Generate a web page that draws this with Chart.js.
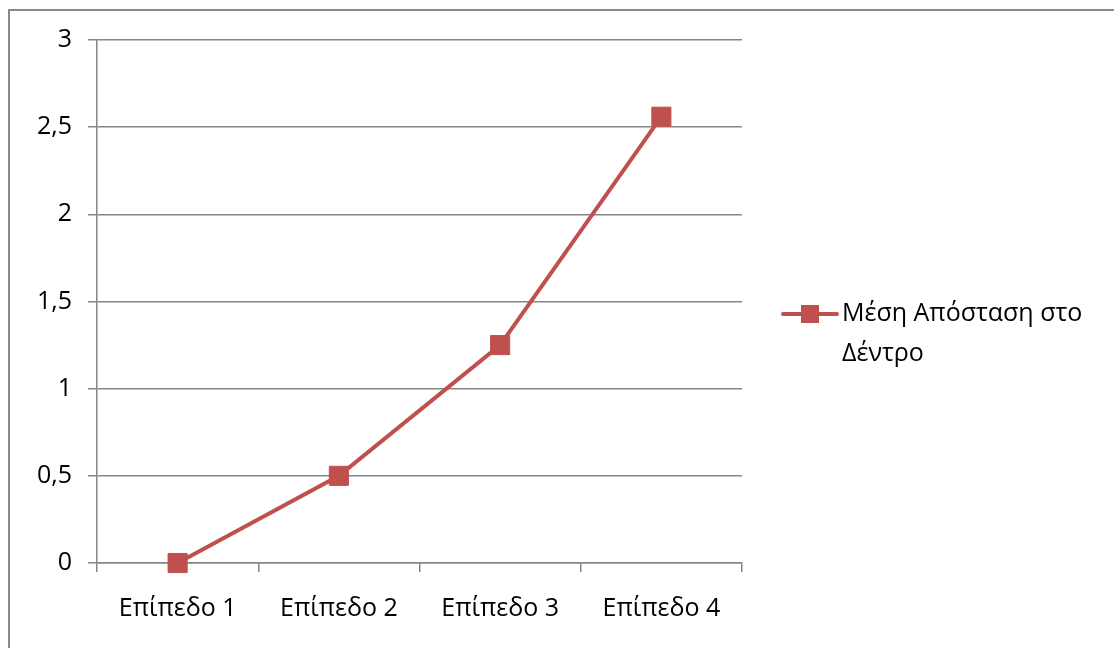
<!DOCTYPE html>
<html>
<head>
<meta charset="utf-8">
<script src="https://cdn.jsdelivr.net/npm/chart.js@4"></script>
<style>
  html, body { margin: 0; padding: 0; background: #fff; }
  #wrap { width: 1114px; height: 648px; position: relative; }
</style>
</head>
<body>
<div id="wrap"><canvas id="c" width="1114" height="648"></canvas></div>
<script>
// Categories and series
const levels = ['Επίπεδο 1', 'Επίπεδο 2', 'Επίπεδο 3', 'Επίπεδο 4'];
const meanDistance = [0, 0.5, 1.25, 2.56];
const seriesName = ['Μέση Απόσταση στο', 'Δέντρο'];
const yTicks = [0, 0.5, 1, 1.5, 2, 2.5, 3];

const RED = '#C0504D';
const AXIS = '#868686';
const FONT = "'Open Sans', 'Noto Sans', sans-serif";
const FONT_SIZE = 25;

// Outer frame of the chart object
const framePlugin = {
  id: 'frame',
  beforeDraw(chart) {
    const ctx = chart.ctx;
    ctx.save();
    ctx.strokeStyle = '#8a8a8a';
    ctx.lineWidth = 2;
    ctx.strokeRect(9, 10, 1200, 700);
    ctx.restore();
  }
};

// Legend on the right: line sample with square marker, wrapped label
const sideLegend = {
  id: 'sideLegend',
  afterDraw(chart) {
    const ctx = chart.ctx;
    const ds = chart.data.datasets[0];
    const y = 314;
    ctx.save();
    ctx.strokeStyle = ds.borderColor;
    ctx.lineWidth = 4;
    ctx.lineCap = 'round';
    ctx.beginPath();
    ctx.moveTo(783, y);
    ctx.lineTo(837, y);
    ctx.stroke();
    ctx.fillStyle = ds.pointBackgroundColor;
    ctx.fillRect(810 - 9, y - 9, 18, 18);
    ctx.fillStyle = '#000';
    ctx.font = FONT_SIZE + 'px ' + FONT;
    ctx.textBaseline = 'middle';
    ctx.textAlign = 'left';
    ds.labelLines.forEach((t, i) => ctx.fillText(t, 842, y + i * 40));
    ctx.restore();
  }
};

new Chart(document.getElementById('c'), {
  type: 'line',
  data: {
    labels: levels,
    datasets: [{
      label: seriesName.join(' '),
      labelLines: seriesName,
      data: meanDistance,
      borderColor: RED,
      backgroundColor: RED,
      borderWidth: 4,
      pointStyle: 'rect',
      pointRadius: 13.5,
      pointHoverRadius: 13.5,
      pointBackgroundColor: RED,
      pointBorderColor: RED,
      pointBorderWidth: 1,
      tension: 0,
      clip: false
    }]
  },
  options: {
    responsive: false,
    animation: false,
    devicePixelRatio: 1,
    layout: { padding: { top: 40, right: 372, bottom: 0, left: 0 } },
    plugins: {
      legend: { display: false },
      tooltip: { enabled: false }
    },
    scales: {
      x: {
        offset: true,
        grid: {
          offset: true,
          drawOnChartArea: false,
          drawTicks: true,
          tickLength: 9,
          color: AXIS,
          lineWidth: 1.5
        },
        border: { display: true, color: AXIS, width: 1.5 },
        ticks: {
          color: '#000',
          padding: 22,
          maxRotation: 0,
          font: { family: FONT, size: FONT_SIZE }
        },
        afterFit(scale) { scale.height = 85; }
      },
      y: {
        min: 0,
        max: 3,
        afterBuildTicks(scale) { scale.ticks = yTicks.map(v => ({ value: v })); },
        grid: {
          color: AXIS,
          lineWidth: 1.5,
          drawTicks: true,
          tickLength: 9
        },
        border: { display: true, color: AXIS, width: 1.5 },
        ticks: {
          color: '#000',
          padding: 16,
          font: { family: FONT, size: FONT_SIZE },
          callback: v => String(v).replace('.', ',')
        },
        afterFit(scale) { scale.width = 97; }
      }
    }
  },
  plugins: [framePlugin, sideLegend]
});
</script>
</body>
</html>
